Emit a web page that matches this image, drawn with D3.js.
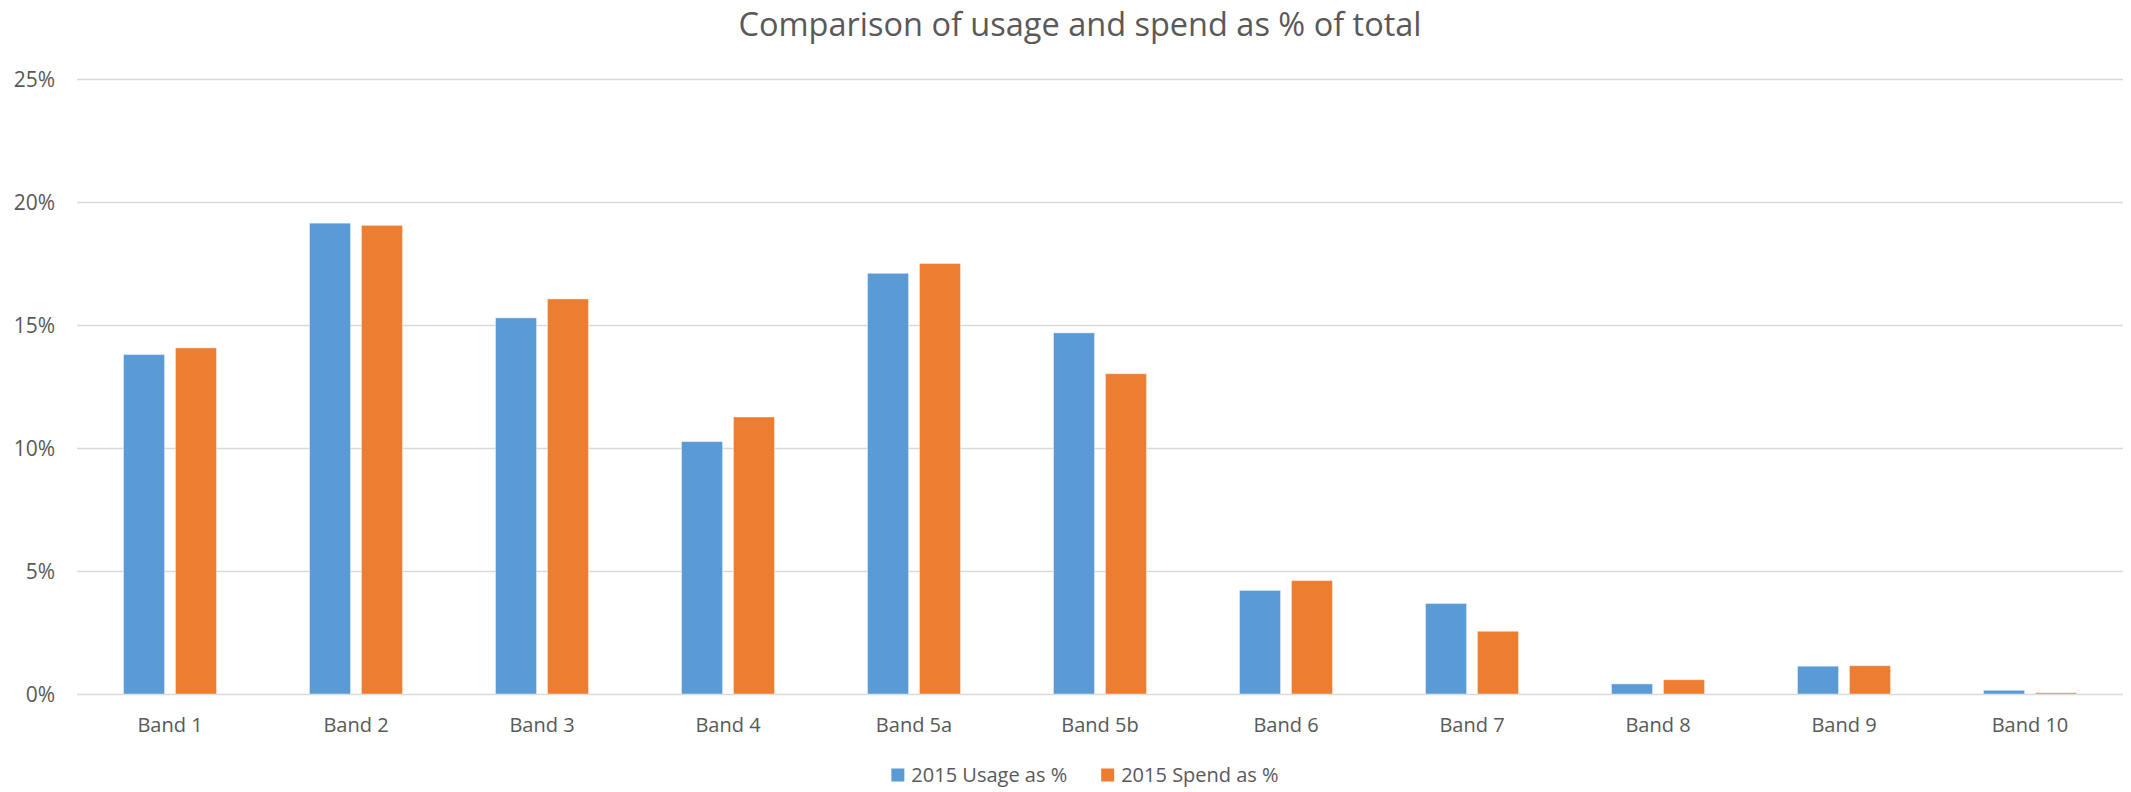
<!DOCTYPE html>
<html>
<head>
<meta charset="utf-8">
<script src="https://cdn.jsdelivr.net/npm/d3@7"></script>
<style>
	body { margin: 0; background: #fff; }
	text { font-family: "Open Sans", sans-serif; fill: #595959; }
</style>
</head>
<body>
<script>

let width = 2131;
let height = 792;

let margins = {
	top: 79,
	right: 8,
	bottom: 98,
	left: 77
};

// chart data
let bands = ["Band 1", "Band 2", "Band 3", "Band 4", "Band 5a", "Band 5b", "Band 6", "Band 7", "Band 8", "Band 9", "Band 10"];
let seriesNames = ["2015 Usage as %", "2015 Spend as %"];
let usagePct = [13.8, 19.14, 15.29, 10.26, 17.1, 14.68, 4.21, 3.68, 0.41, 1.13, 0.15];
let spendPct = [14.07, 19.05, 16.06, 11.26, 17.5, 13.02, 4.61, 2.55, 0.58, 1.15, 0.05];
let yTicks = [0, 5, 10, 15, 20, 25];
let colors = ["#5B9BD5", "#ED7D31"];

let rows = bands.map((b, i) => ({ band: b, values: [usagePct[i], spendPct[i]] }));

let xScale = d3.scaleBand()
	.domain(bands)
	.range([margins.left, width - margins.right]);

let groupWidth = xScale.bandwidth() * 0.5;

let xInner = d3.scaleBand()
	.domain(d3.range(seriesNames.length))
	.range([0, groupWidth])
	.paddingInner(0.21);

let yScale = d3.scaleLinear()
	.domain([0, 25])
	.range([height - margins.bottom, margins.top]);

let svg = d3.select("body")
	.append("svg")
		.attr("width", width)
		.attr("height", height);

// gridlines + y labels
let yAxis = d3.axisLeft(yScale)
	.tickValues(yTicks)
	.tickSize(-(width - margins.left - margins.right))
	.tickPadding(22)
	.tickFormat(d => d + "%");

let gy = svg.append("g")
	.attr("class", "y axis")
	.attr("transform", "translate(" + margins.left + ",0)")
	.call(yAxis);

gy.select(".domain").remove();
gy.selectAll(".tick line")
	.style("stroke", "#D9D9D9")
	.style("stroke-width", "1.5px");
gy.selectAll(".tick text")
	.style("font-size", "21px")
	.attr("dy", "0.35em");

// bars
let groups = svg.append("g")
	.selectAll("g")
	.data(rows)
	.enter().append("g")
		.attr("transform", d => "translate(" + (xScale(d.band) + (xScale.bandwidth() - groupWidth) / 2) + ",0)");

groups.selectAll("rect")
	.data(d => d.values)
	.enter().append("rect")
		.attr("x", (d, i) => xInner(i))
		.attr("y", d => yScale(d))
		.attr("width", xInner.bandwidth())
		.attr("height", d => yScale(0) - yScale(d))
		.style("fill", (d, i) => colors[i])
		.style("stroke", "#fff")
		.style("stroke-opacity", 0.4)
		.style("stroke-width", "1px");

// x labels
let xAxis = d3.axisBottom(xScale).tickSize(0).tickPadding(24);

let gx = svg.append("g")
	.attr("class", "x axis")
	.attr("transform", "translate(0," + (height - margins.bottom) + ")")
	.call(xAxis);

gx.select(".domain").remove();
gx.selectAll(".tick text")
	.style("font-size", "20px");

// title
svg.append("text")
	.attr("x", 1080)
	.attr("y", 36)
	.attr("text-anchor", "middle")
	.style("font-size", "32.5px")
	.text("Comparison of usage and spend as % of total");

// legend
let legend = svg.append("g");
let items = legend.selectAll("g")
	.data(seriesNames)
	.enter().append("g");

items.append("rect")
	.attr("width", 13)
	.attr("height", 13)
	.attr("y", -6.5)
	.style("fill", (d, i) => colors[i]);

items.append("text")
	.attr("x", 20)
	.attr("dy", "0.35em")
	.style("font-size", "20px")
	.text(d => d);

let offset = 0;
let gap = 34;
items.each(function() {
	let w = this.getBBox().width;
	d3.select(this).attr("transform", "translate(" + offset + ",0)");
	offset += w + gap;
});
let totalW = offset - gap;
legend.attr("transform", "translate(" + (1085 - totalW / 2) + ",775)");

</script>
</body>
</html>
